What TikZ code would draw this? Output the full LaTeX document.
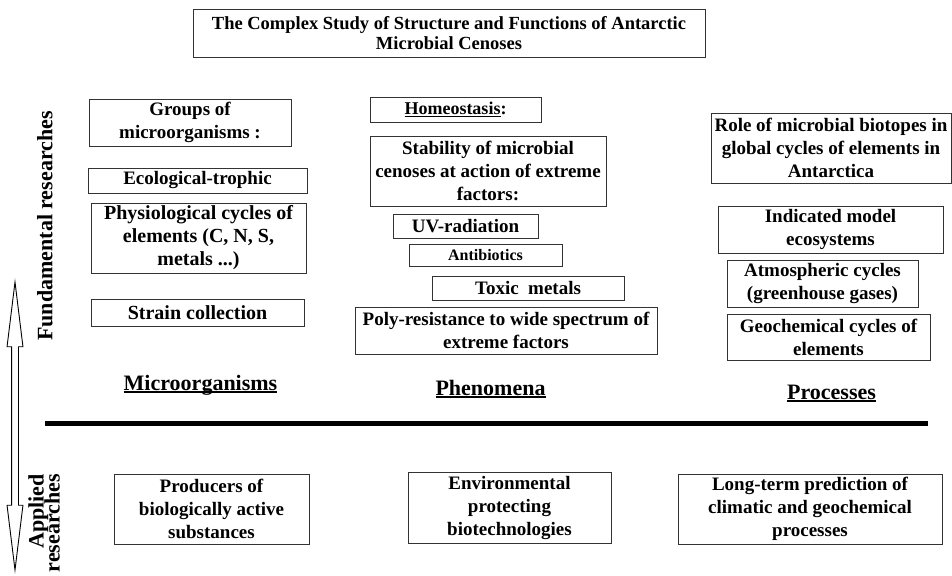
\documentclass[tikz,border=0pt]{standalone}
\usepackage{fontspec}
\setmainfont{Liberation Serif}
\usetikzlibrary{positioning,shapes.arrows}
\tikzset{box/.style = {draw=black!80, line width=0.9pt, rectangle, inner sep=1pt, align=center,
  font=\bfseries\fontsize{19}{23}\selectfont}}
\newcommand{\undl}[1]{\setbox0\hbox{#1}\leavevmode\rlap{\rule[-3pt]{\wd0}{1.6pt}}\box0}
\newcommand{\tightlines}{\lineskiplimit=-20pt\relax}

\begin{document}
\begin{tikzpicture}[x=1pt,y=-1pt,
  every node/.style={inner sep=0pt},
  bigtext/.style={font=\bfseries\fontsize{20}{23}\selectfont},
  headline/.style={font=\bfseries\fontsize{22}{26}\selectfont, anchor=base},
  sidetext/.style={font=\bfseries\fontsize{22}{16}\selectfont\tightlines, rotate=90}
  ]
  \useasboundingbox (0,0) rectangle (952,575);

  % the title
  \node[box, font=\bfseries\fontsize{18.5}{20.5}\selectfont, minimum width=512pt, minimum height=48pt] (title) at (449,33)
    {The Complex Study of Structure and Functions of Antarctic\\Microbial Cenoses};

  % the microorganisms column
  \node[box, minimum width=202pt, minimum height=47pt] (groups) at (190,122.5) {Groups of\\microorganisms :};
  \node[box, minimum width=219pt, minimum height=25pt] (eco) at (197.5,180.5) {Ecological-trophic};
  \node[box, bigtext, minimum width=215pt, minimum height=70pt] (phys) at (198.5,238)
    {Physiological cycles of\\elements (C, N, S,\\metals ...)};
  \node[box, bigtext, minimum width=213pt, minimum height=27pt] (strain) at (197.5,312.5) {Strain collection};

  % the phenomena column
  \node[box, font=\bfseries\fontsize{18}{21}\selectfont, minimum width=171pt, minimum height=25pt] (homeo) at (455.5,109.5)
    {\undl{Homeostasis}:};
  \node[box, minimum width=236pt, minimum height=70pt] (stab) at (488,171)
    {Stability of microbial\\cenoses at action of extreme\\factors:};
  \node[box, minimum width=145pt, minimum height=24pt] (uv) at (465.5,226) {UV-radiation};
  \node[box, font=\bfseries\fontsize{16}{20}\selectfont, minimum width=153pt, minimum height=22pt] (anti) at (485.5,255) {Antibiotics};
  \node[box, minimum width=192pt, minimum height=24pt] (toxic) at (528,288) {Toxic\ \ metals};
  \node[box, minimum width=302pt, minimum height=47pt] (poly) at (506,330.5)
    {Poly-resistance to wide spectrum of\\extreme factors};

  % the processes column
  \node[box, minimum width=240pt, minimum height=70pt] (role) at (831,148)
    {Role of microbial biotopes in\\global cycles of elements in\\Antarctica};
  \node[box, minimum width=225pt, minimum height=47pt] (ind) at (830.5,229.5) {Indicated model\\ecosystems};
  \node[box, minimum width=191pt, minimum height=47pt] (atm) at (822.5,283.5) {Atmospheric cycles\\(greenhouse gases)};
  \node[box, minimum width=203pt, minimum height=46pt] (geo) at (828.5,337) {Geochemical cycles of\\elements};

  % the column headings
  \foreach \name/\x/\y/\txt in {mic/200.5/390/Microorganisms, phe/490.5/395/Phenomena, pro/831.5/399/Processes}
    \node[headline] (\name) at (\x,\y) {\undl{\txt}};

  % the dividing line
  \coordinate (lstart) at (45,423.5);
  \coordinate (lend) at (928,423.5);
  \draw[line width=5pt] (lstart) -- (lend);

  % the applied boxes
  \node[box, minimum width=195pt, minimum height=70pt] (prod) at (211.5,509)
    {Producers of\\biologically active\\substances};
  \node[box, minimum width=203pt, minimum height=71pt] (env) at (509.5,507.5)
    {Environmental\\protecting\\biotechnologies};
  \node[box, minimum width=264pt, minimum height=70pt] (long) at (810,509)
    {Long-term prediction of\\climatic and geochemical\\processes};

  % the side arrow and its labels
  \node[double arrow, draw=black, line width=0.9pt, rotate=90, minimum height=288pt, inner sep=3pt,
    double arrow head extend=4.5pt, double arrow tip angle=14] (updown) at (15,426) {};
  \node[sidetext] (fund) at (45,226) {Fundamental researches};
  \node[sidetext, align=right, anchor=east] (appl) at (44,474) {Applied\\researches};
\end{tikzpicture}
\end{document}
